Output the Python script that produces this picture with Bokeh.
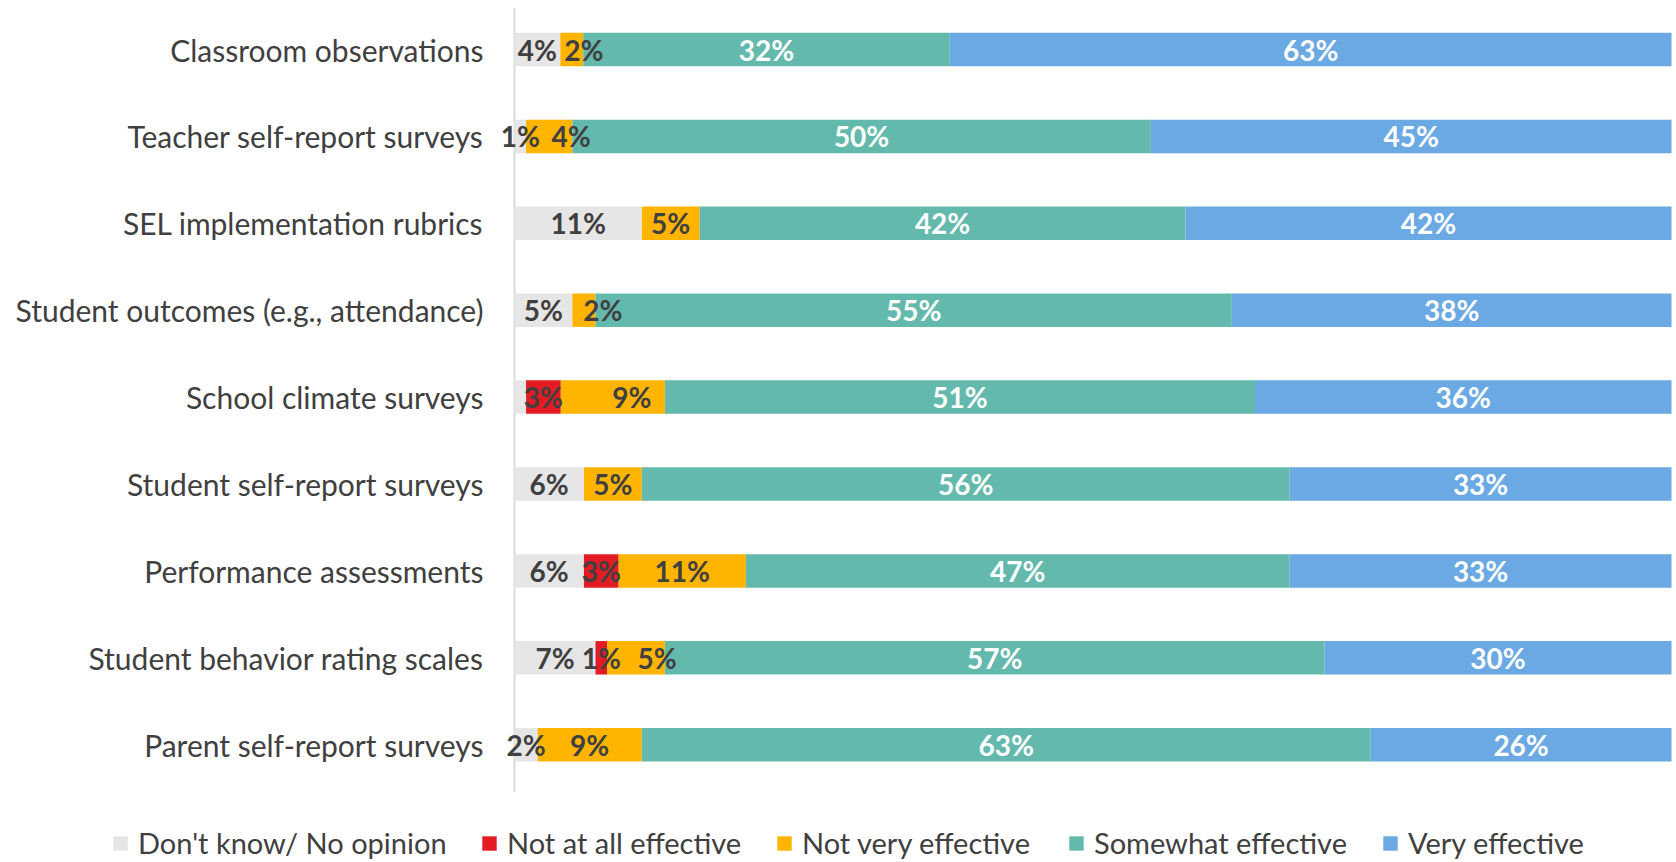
from bokeh.plotting import figure
from bokeh.models import ColumnDataSource, Range1d, LabelSet, Legend, LegendItem
from bokeh.core.properties import value
from bokeh.embed import file_html
from bokeh.resources import INLINE

categories = [
    "Classroom observations",
    "Teacher self-report surveys",
    "SEL implementation rubrics",
    "Student outcomes (e.g., attendance)",
    "School climate surveys",
    "Student self-report surveys",
    "Performance assessments",
    "Student behavior rating scales",
    "Parent self-report surveys",
]
series_names = ["Don't know/ No opinion", "Not at all effective", "Not very effective",
                "Somewhat effective", "Very effective"]
dont_know = [4, 1, 11, 5, 1, 6, 6, 7, 2]
not_at_all = [0, 0, 0, 0, 3, 0, 3, 1, 0]
not_very = [2, 4, 5, 2, 9, 5, 11, 5, 9]
somewhat = [32, 50, 42, 55, 51, 56, 47, 57, 63]
very = [63, 45, 42, 38, 36, 33, 33, 30, 26]
# labels not shown in the original
hidden_labels = [("School climate surveys", "Don't know/ No opinion")]

# --- styling / layout (not data) ---
colors = ["#E7E6E6", "#E31B23", "#FFB500", "#64B9AD", "#6AA9E3"]
label_colors = ["#404040", "#404040", "#404040", "#FFFFFF", "#FFFFFF"]
FONT = "Lato"
TXT = "#404040"
# manual label nudges (px) seen in the original: (row, series) -> dx
label_nudge = {(0, 2): 12, (1, 2): 22, (3, 2): 19, (4, 2): 19, (7, 2): 21}

series = [dont_know, not_at_all, not_very, somewhat, very]
n = len(categories)
ys = list(range(n))
totals = [sum(s[i] for s in series) for i in range(n)]

W, H = 1676, 862
PX_PER_PCT = 11.57          # 100% spans 1157 px
X0_PX = 514                 # axis position
ROW_PX = 86.9
ROW0_PX = 49
x_start = -X0_PX / PX_PER_PCT
x_end = x_start + W / PX_PER_PCT
y_top = -ROW0_PX / ROW_PX
y_bot = y_top + H / ROW_PX

p = figure(width=W, height=H, output_backend="svg", toolbar_location=None, title=None,
           x_range=Range1d(x_start, x_end), y_range=Range1d(y_bot, y_top),
           min_border_left=0, min_border_right=0, min_border_top=0, min_border_bottom=0)
p.outline_line_color = None
p.grid.visible = False
p.axis.visible = False
p.background_fill_color = "white"
p.border_fill_color = "white"

# vertical category axis line
ax_top = y_top + 8 / ROW_PX
ax_bot = y_top + 791 / ROW_PX
p.segment(x0=[0], y0=[ax_top], x1=[0], y1=[ax_bot], line_color="#D9D9D9", line_width=2)

# category labels
cat_src = ColumnDataSource(dict(x=[0] * n, y=ys, text=categories))
p.add_layout(LabelSet(x="x", y="y", text="text", source=cat_src, x_offset=-31,
                      text_align="right", text_baseline="middle",
                      text_font=value(FONT), text_font_size=value("30px"),
                      text_color=value(TXT)))

renderers = []
cum = [0.0] * n
for k, (name, vals) in enumerate(zip(series_names, series)):
    left = [cum[i] for i in range(n)]
    right = [cum[i] + vals[i] / totals[i] * 100 for i in range(n)]
    cum = right
    src = ColumnDataSource(dict(
        y=ys, left=left, right=right,
        mid=[(l + r) / 2 + label_nudge.get((i, k), 0) / PX_PER_PCT
             for i, (l, r) in enumerate(zip(left, right))],
        lab=[("%d%%" % v) if (v > 0 and (categories[i], name) not in hidden_labels) else ""
             for i, v in enumerate(vals)]))
    r = p.hbar(y="y", left="left", right="right", height=0.385, source=src,
               fill_color=colors[k], line_color=None)
    renderers.append(r)
    p.add_layout(LabelSet(x="mid", y="y", text="lab", source=src, text_align="center",
                          text_baseline="middle", text_font=value(FONT), text_font_style="bold",
                          text_font_size=value("28px"), text_color=value(label_colors[k])))

# legend items, one per series, positioned under the chart
leg_x = [111, 480, 775, 1067, 1381]
for k, r in enumerate(renderers):
    lg = Legend(items=[LegendItem(label=series_names[k], renderers=[r])],
                location=(leg_x[k], 2), orientation="horizontal",
                glyph_width=18, glyph_height=18, label_standoff=9,
                label_text_font=FONT, label_text_font_size="29px", label_text_color=TXT,
                padding=0, margin=0, border_line_color=None, background_fill_alpha=0)
    p.add_layout(lg, "center")

open("out.html", "w").write(file_html(p, INLINE))
